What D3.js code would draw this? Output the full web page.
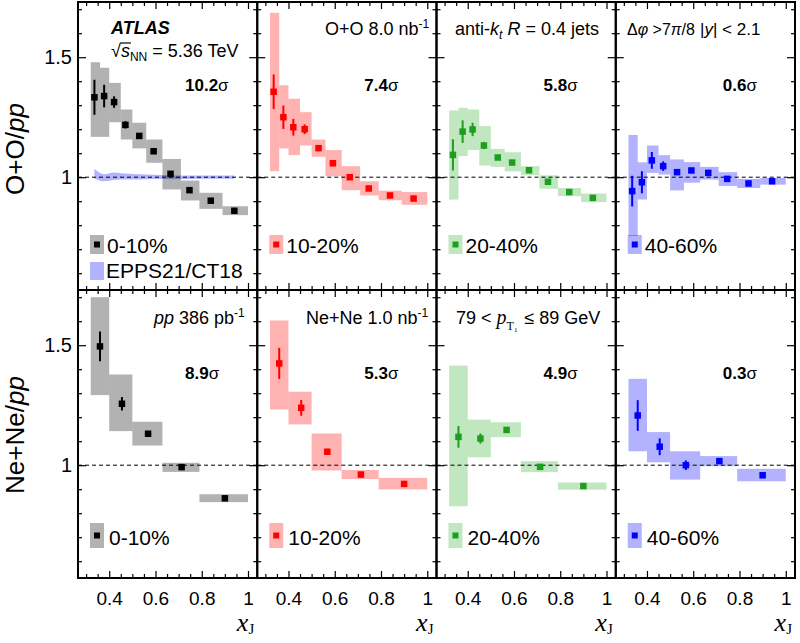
<!DOCTYPE html>
<html><head><meta charset="utf-8">
<script src="https://cdn.jsdelivr.net/npm/d3@7"></script>
<style>
body{margin:0;background:#fff;}
svg{display:block;font-family:"Liberation Sans",Arial,sans-serif;}
</style></head><body>
<svg id="chart" width="800" height="643"></svg>
<script>
// ── data ───────────────────────────────────────────────────────────────────
const centralities = ['0-10%', '10-20%', '20-40%', '40-60%'];

// x_J bin edges and centres
const edgesOO = [0.32, 0.36, 0.40, 0.45, 0.50, 0.56, 0.63, 0.71, 0.79, 0.89, 1.0];
const xOO     = [0.336, 0.378, 0.421, 0.470, 0.530, 0.592, 0.665, 0.747, 0.839, 0.941];
const edgesNe = [0.32, 0.40, 0.50, 0.63, 0.79, 1.0];
const xNe     = [0.360, 0.455, 0.568, 0.713, 0.900];

// O+O / pp  (one row per centrality)
const ooY = [
  [1.333, 1.338, 1.313, 1.218, 1.172, 1.108, 1.014, 0.946, 0.902, 0.860],
  [1.356, 1.250, 1.208, 1.200, 1.121, 1.058, 1.000, 0.953, 0.924, 0.911],
  [1.093, 1.190, 1.199, 1.132, 1.082, 1.061, 1.029, 0.981, 0.938, 0.914],
  [0.942, 0.979, 1.070, 1.046, 1.021, 1.028, 1.018, 0.993, 0.974, 0.983]
];
const ooStat = [
  [0.073, 0.047, 0.024, 0.015, 0.012, 0.010, 0.010, 0.008, 0.008, 0.007],
  [0.072, 0.049, 0.035, 0.020, 0.012, 0.010, 0.010, 0.008, 0.008, 0.007],
  [0.065, 0.047, 0.028, 0.015, 0.010, 0.010, 0.008, 0.008, 0.007, 0.007],
  [0.064, 0.046, 0.035, 0.020, 0.012, 0.010, 0.010, 0.008, 0.008, 0.007]
];
const ooSysLo = [
  [1.168, 1.168, 1.229, 1.157, 1.120, 1.060, 0.949, 0.903, 0.868, 0.842],
  [1.025, 1.120, 1.092, 1.132, 1.085, 1.004, 0.946, 0.924, 0.904, 0.885],
  [0.907, 1.088, 1.113, 1.049, 1.043, 1.024, 1.008, 0.952, 0.921, 0.896],
  [0.755, 0.907, 1.018, 1.011, 0.945, 0.977, 0.990, 0.963, 0.955, 0.969]
];
const ooSysHi = [
  [1.479, 1.456, 1.393, 1.282, 1.227, 1.157, 1.076, 0.986, 0.935, 0.879],
  [1.685, 1.383, 1.327, 1.271, 1.157, 1.113, 1.046, 0.983, 0.944, 0.938],
  [1.278, 1.289, 1.282, 1.213, 1.118, 1.104, 1.046, 1.008, 0.955, 0.932],
  [1.176, 1.062, 1.132, 1.092, 1.074, 1.063, 1.043, 1.021, 0.993, 0.997]
];

// Ne+Ne / pp
const neY = [
  [1.495, 1.256, 1.131, 0.992, 0.862],
  [1.424, 1.239, 1.056, 0.961, 0.922],
  [1.118, 1.111, 1.147, 0.993, 0.913],
  [1.207, 1.077, 1.000, 1.017, 0.958]
];
const neStat = [
  [0.062, 0.028, 0.012, 0.010, 0.008],
  [0.065, 0.033, 0.012, 0.010, 0.008],
  [0.045, 0.021, 0.012, 0.010, 0.008],
  [0.064, 0.035, 0.020, 0.010, 0.008]
];
const neSysLo = [
  [1.292, 1.142, 1.082, 0.972, 0.846],
  [1.232, 1.170, 0.978, 0.942, 0.899],
  [0.829, 1.033, 1.117, 0.971, 0.898],
  [1.058, 1.012, 0.940, 0.996, 0.933]
];
const neSysHi = [
  [1.700, 1.378, 1.181, 1.010, 0.879],
  [1.603, 1.306, 1.132, 0.980, 0.947],
  [1.415, 1.190, 1.179, 1.017, 0.928],
  [1.360, 1.138, 1.058, 1.038, 0.985]
];

// EPPS21/CT18 nPDF band (O+O 0-10% panel)
const eppsLo = [0.995, 0.983, 0.988, 0.990, 0.990, 0.992, 0.993, 0.993, 0.994, 0.994];
const eppsHi = [1.035, 1.012, 1.020, 1.015, 1.012, 1.010, 1.008, 1.007, 1.007, 1.007];

const ooSigma = ['10.2', '7.4', '5.8', '0.6'];
const neSigma = ['8.9', '5.3', '4.9', '0.3'];

const xMajor = [0.4, 0.6, 0.8, 1.0];
const xMinor = [0.3, 0.35, 0.45, 0.5, 0.55, 0.65, 0.7, 0.75, 0.85, 0.9, 0.95];
const yMajor = [1.0, 1.5];
const yMinor = [0.6, 0.7, 0.8, 0.9, 1.1, 1.2, 1.3, 1.4, 1.6, 1.7];

// ── styles ─────────────────────────────────────────────────────────────────
const markerCol = ['#000000', '#ff0000', '#1e9e1e', '#0000ff'];
const boxCol    = ['#000000', '#ff0000', '#2fae2f', '#0000ff'];
const boxAlpha  = 0.3;

// ── layout ─────────────────────────────────────────────────────────────────
const padL = 78, padT = 2, pw = 179.25, ph = 288;
const svg = d3.select('#chart');
const x = d3.scaleLinear().domain([0.265, 1.04]).range([0, pw]);
const y = d3.scaleLinear().domain([0.53, 1.73]).range([ph, 0]);

function rich(sel, px, py, parts, size, anchor) {
  const t = sel.append('text').attr('x', px).attr('y', py).attr('font-size', size)
    .attr('text-anchor', anchor || 'start');
  let shift = 0;
  parts.forEach(p => {
    const target = p.sub || (p.sup ? -p.sup : 0);
    const s = t.append('tspan').text(p.t).attr('dy', target - shift);
    shift = target;
    if (p.i) s.attr('font-style', 'italic');
    if (p.b) s.attr('font-weight', 'bold');
    if (p.size) s.attr('font-size', p.size);
    if (p.serif) s.attr('font-family', '"Liberation Serif","Times New Roman",serif');
    if (p.dx) s.attr('dx', p.dx);
  });
  return t;
}

function drawPanel(row, col) {
  const g = svg.append('g').attr('transform', `translate(${padL + col * pw},${padT + row * ph})`);
  const edges = row === 0 ? edgesOO : edgesNe;
  const xs = row === 0 ? xOO : xNe;
  const vals = (row === 0 ? ooY : neY)[col];
  const stat = (row === 0 ? ooStat : neStat)[col];
  const lo = (row === 0 ? ooSysLo : neSysLo)[col];
  const hi = (row === 0 ? ooSysHi : neSysHi)[col];
  const pts = vals.map((v, i) => ({ x: xs[i], v, s: stat[i], lo: lo[i], hi: hi[i], x0: edges[i], x1: edges[i + 1] }));

  // nPDF band
  if (row === 0 && col === 0) {
    const band = xOO.map((d, i) => ({ x: d, lo: eppsLo[i], hi: eppsHi[i] }));
    g.append('path').datum(band)
      .attr('d', d3.area().x(d => x(d.x)).y0(d => y(d.lo)).y1(d => y(d.hi)).curve(d3.curveMonotoneX))
      .attr('fill', '#0000ff').attr('fill-opacity', 0.3);
  }

  // systematic boxes
  g.selectAll('.sys').data(pts).join('rect').attr('class', 'sys')
    .attr('x', d => x(d.x0)).attr('width', d => x(d.x1) - x(d.x0))
    .attr('y', d => y(d.hi)).attr('height', d => y(d.lo) - y(d.hi))
    .attr('fill', boxCol[col]).attr('fill-opacity', boxAlpha);

  // unity line
  g.append('line').attr('x1', 0).attr('x2', pw).attr('y1', y(1)).attr('y2', y(1))
    .attr('stroke', '#000').attr('stroke-width', 1).attr('stroke-dasharray', '4,3');

  // stat bars + markers
  g.selectAll('.stat').data(pts).join('line').attr('class', 'stat')
    .attr('x1', d => x(d.x)).attr('x2', d => x(d.x))
    .attr('y1', d => y(d.v + d.s)).attr('y2', d => y(d.v - d.s))
    .attr('stroke', markerCol[col]).attr('stroke-width', 2);
  const ms = 6.5;
  g.selectAll('.mk').data(pts).join('rect').attr('class', 'mk')
    .attr('x', d => x(d.x) - ms / 2).attr('y', d => y(d.v) - ms / 2)
    .attr('width', ms).attr('height', ms).attr('fill', markerCol[col]);

  // ticks on four sides (inward)
  const noLab = a => a.tickFormat('');
  [[d3.axisBottom, `translate(0,${ph})`], [d3.axisTop, 'translate(0,0)']].forEach(([fn, tr]) => {
    g.append('g').attr('transform', tr).call(noLab(fn(x).tickValues(xMajor).tickSize(-7)))
      .call(s => s.select('.domain').remove());
    g.append('g').attr('transform', tr).call(noLab(fn(x).tickValues(xMinor).tickSize(-4)))
      .call(s => s.select('.domain').remove());
  });
  [[d3.axisLeft, 'translate(0,0)'], [d3.axisRight, `translate(${pw},0)`]].forEach(([fn, tr]) => {
    g.append('g').attr('transform', tr).call(noLab(fn(y).tickValues(yMajor).tickSize(-8)))
      .call(s => s.select('.domain').remove());
    g.append('g').attr('transform', tr).call(noLab(fn(y).tickValues(yMinor).tickSize(-4)))
      .call(s => s.select('.domain').remove());
  });
  g.selectAll('.tick line').attr('stroke', '#000').attr('stroke-width', 1.2);

  // frame
  g.append('rect').attr('width', pw).attr('height', ph)
    .attr('fill', 'none').attr('stroke', '#000').attr('stroke-width', 2);

  // x tick labels + title on bottom row
  if (row === 1) {
    const ax = g.append('g').attr('transform', `translate(0,${ph})`)
      .call(d3.axisBottom(x).tickValues(xMajor).tickSize(0).tickPadding(14)
        .tickFormat(d => d === 1 ? '1' : d.toFixed(1)));
    ax.select('.domain').remove();
    ax.selectAll('text').attr('font-size', 19).attr('fill', '#000')
      .attr('font-family', '"Liberation Sans",Arial,sans-serif');
    rich(g, pw - 3, 631 - padT - ph, [
      { t: 'x', i: true, serif: true },
      { t: 'J', serif: true, size: 15, sub: 3 }
    ], 26, 'end');
  }
  // y tick labels on first column
  if (col === 0) {
    const ay = g.append('g').call(d3.axisLeft(y).tickValues(yMajor).tickSize(0).tickPadding(6)
      .tickFormat(d => d === 1 ? '1' : d.toFixed(1)));
    ay.select('.domain').remove();
    ay.selectAll('text').attr('font-size', 20).attr('fill', '#000')
      .attr('font-family', '"Liberation Sans",Arial,sans-serif');
  }

  // significance
  rich(g, 107, 89, [{ t: (row === 0 ? ooSigma : neSigma)[col], b: true }, { t: 'σ' }], 17);

  // legend
  const lgTop = 233;
  const lgH = row === 0 ? 19 : 25;
  g.append('rect').attr('x', 12).attr('y', lgTop).attr('width', 14).attr('height', lgH)
    .attr('fill', boxCol[col]).attr('fill-opacity', boxAlpha);
  g.append('rect').attr('x', 19 - 3).attr('y', lgTop + lgH / 2 - 3).attr('width', 6).attr('height', 6)
    .attr('fill', markerCol[col]);
  g.append('text').attr('x', row === 0 ? 29 : 31).attr('y', row === 0 ? 251 : 255)
    .attr('font-size', 21).text(centralities[col]);
  if (row === 0 && col === 0) {
    g.append('rect').attr('x', 12).attr('y', 260).attr('width', 14).attr('height', 18)
      .attr('fill', '#0000ff').attr('fill-opacity', 0.3);
    g.append('text').attr('x', 28).attr('y', 276).attr('font-size', 21).text('EPPS21/CT18');
  }
  return g;
}

for (let r = 0; r < 2; r++) for (let c = 0; c < 4; c++) drawPanel(r, c);

// ── annotations ────────────────────────────────────────────────────────────
const fs = 18;
svg.append('text').attr('x', 111).attr('y', 34).attr('font-size', 18)
  .attr('font-weight', 'bold').attr('font-style', 'italic').text('ATLAS');
const rs = rich(svg, 111, 57, [
  { t: '√' }, { t: 's', i: true }, { t: 'NN', size: 12, sub: 4 }, { t: ' = 5.36 TeV' }
], fs);
{
  const n = rs.node();
  const e0 = n.getExtentOfChar(0), e1 = n.getExtentOfChar(1);
  svg.append('line').attr('x1', e0.x + e0.width - 0.5).attr('x2', e1.x + e1.width + 1)
    .attr('y1', 43).attr('y2', 43).attr('stroke', '#000').attr('stroke-width', 1.2);
}
rich(svg, 325, 35, [{ t: 'O+O 8.0 nb' }, { t: '-1', size: 12, sup: 7 }], fs);
rich(svg, 455, 35, [
  { t: 'anti-' }, { t: 'k', i: true }, { t: 't', i: true, size: 12, sub: 4 },
  { t: ' ' }, { t: 'R', i: true }, { t: ' = 0.4 jets' }
], fs);
rich(svg, 627, 35, [{ t: 'Δ' }, { t: 'φ', i: true }, { t: ' >7' }, { t: 'π', i: true }, { t: '/8' }], 16);
rich(svg, 700, 35, [{ t: '|' }, { t: 'y', i: true }, { t: '| < 2.1' }], 17);

rich(svg, 154, 324, [{ t: 'pp', i: true }, { t: ' 386 pb' }, { t: '-1', size: 12, sup: 7 }], fs);
rich(svg, 306, 324, [{ t: 'Ne+Ne 1.0 nb' }, { t: '-1', size: 12, sup: 7 }], fs);
rich(svg, 456, 324, [
  { t: '79 <  ' }, { t: 'p', i: true, serif: true, size: 20 },
  { t: 'T', serif: true, size: 12, sub: 6 }, { t: '1', serif: true, size: 7, sub: 8 },
  { t: ' ≤ 89 GeV', dx: 2 }
], fs);

// y-axis titles
[['O+O/', 149], ['Ne+Ne/', 435]].forEach(([lab, cy]) => {
  const t = svg.append('text').attr('transform', `translate(24,${cy}) rotate(-90)`)
    .attr('text-anchor', 'middle').attr('font-size', 26);
  t.append('tspan').text(lab);
  t.append('tspan').attr('font-style', 'italic').text('pp');
});
</script>
</body></html>
